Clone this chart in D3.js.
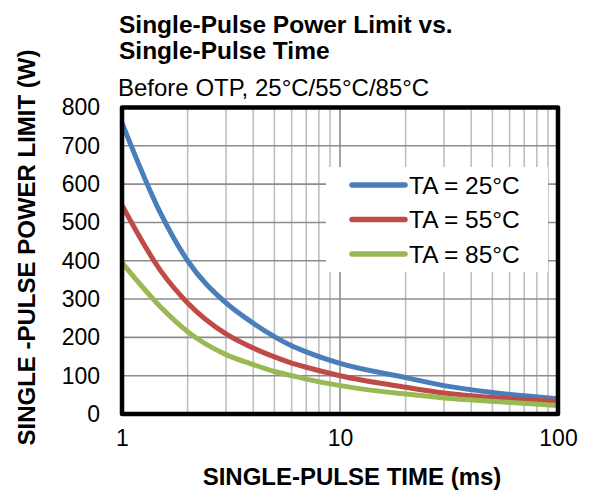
<!DOCTYPE html>
<html>
<head>
<meta charset="utf-8">
<script src="https://cdn.jsdelivr.net/npm/d3@7"></script>
<style>
  body { margin: 0; background: #fff; }
  svg { display: block; font-family: Arial, "Liberation Sans", sans-serif; }
</style>
</head>
<body>
<div id="chart"></div>
<script>
// data
const times = [1, 1.5, 2, 3, 4, 5, 6, 7, 10, 20, 30, 50, 100];
const ta25 = [760, 525, 400, 290, 237, 202, 178, 162, 132, 95, 74, 56, 40];
const ta55 = [545, 375, 290, 209, 172, 149, 133, 122, 100, 70, 55, 43, 33];
const ta85 = [395, 280, 215, 155, 129, 111, 100, 91, 74, 52, 42, 33, 22];
const seriesNames = ['TA = 25°C', 'TA = 55°C', 'TA = 85°C'];
const xTicks = [1, 10, 100];
const yTicks = [0, 100, 200, 300, 400, 500, 600, 700, 800];
const xMinor = [2, 3, 4, 5, 6, 7, 8, 9, 20, 30, 40, 50, 60, 70, 80, 90];

const w = 589, h = 493;
const pLeft = 122, pRight = 558, pTop = 107.5, pBottom = 414;
const colors = ['#4a7ebb', '#be4b48', '#98b954'];

const svg = d3.select('#chart').append('svg')
    .attr('width', w)
    .attr('height', h);

const x = d3.scaleLog().domain([1, 100]).range([pLeft, pRight]);
const y = d3.scaleLinear().domain([0, 800]).range([pBottom, pTop]);

// grid
svg.append('g').selectAll('line')
    .data(xMinor)
    .enter().append('line')
    .attr('x1', d => x(d)).attr('x2', d => x(d))
    .attr('y1', pTop).attr('y2', pBottom)
    .attr('stroke', '#bfbfbf')
    .attr('stroke-width', 1.6);

svg.append('line')
    .attr('x1', x(10)).attr('x2', x(10))
    .attr('y1', pTop).attr('y2', pBottom)
    .attr('stroke', '#8c8c8c')
    .attr('stroke-width', 1.6);

svg.append('g').selectAll('line')
    .data(yTicks.slice(1, -1))
    .enter().append('line')
    .attr('x1', pLeft).attr('x2', pRight)
    .attr('y1', d => y(d)).attr('y2', d => y(d))
    .attr('stroke', '#8c8c8c')
    .attr('stroke-width', 1.6);

// legend box sits over the grid
svg.append('rect')
    .attr('x', 326).attr('y', 167)
    .attr('width', 222).attr('height', 105)
    .attr('fill', '#fff');

// curves
const series = [ta25, ta55, ta85];
const line = d3.line()
    .x((d, i) => x(times[i]))
    .y(d => y(d))
    .curve(d3.curveMonotoneX);

svg.append('g').selectAll('path')
    .data(series)
    .enter().append('path')
    .attr('d', d => line(d))
    .attr('fill', 'none')
    .attr('stroke', (d, i) => colors[i])
    .attr('stroke-width', 5)
    .attr('stroke-linejoin', 'round');

// frame
svg.append('rect')
    .attr('x', pLeft).attr('y', pTop)
    .attr('width', pRight - pLeft).attr('height', pBottom - pTop)
    .attr('fill', 'none')
    .attr('stroke', '#000')
    .attr('stroke-width', 4.5)
    .attr('stroke-linejoin', 'round');

// axes
const yAxis = d3.axisLeft(y).tickValues(yTicks).tickSize(0).tickPadding(0);
const gy = svg.append('g')
    .attr('transform', 'translate(100,0)')
    .call(yAxis);
gy.select('.domain').remove();
gy.selectAll('text')
    .attr('font-size', 23)
    .attr('font-family', 'Arial, "Liberation Sans", sans-serif')
    .attr('fill', '#000');

const xAxis = d3.axisBottom(x).tickValues(xTicks).tickSize(0).tickPadding(0)
    .tickFormat(d3.format('d'));
const gx = svg.append('g')
    .attr('transform', 'translate(0,430)')
    .call(xAxis);
gx.select('.domain').remove();
gx.selectAll('text')
    .attr('font-size', 23)
    .attr('font-family', 'Arial, "Liberation Sans", sans-serif')
    .attr('fill', '#000');

// legend
const lg = svg.append('g').selectAll('g')
    .data(seriesNames)
    .enter().append('g')
    .attr('transform', (d, i) => `translate(0,${185 + i * 34.5})`);
lg.append('line')
    .attr('x1', 352).attr('x2', 405)
    .attr('stroke', (d, i) => colors[i])
    .attr('stroke-width', 5.5)
    .attr('stroke-linecap', 'round');
lg.append('text')
    .attr('x', 409).attr('y', 8.5)
    .attr('font-size', 24.5)
    .text(d => d);

// titles
svg.append('text')
    .attr('x', 119).attr('y', 33)
    .attr('font-size', 24.5).attr('font-weight', 'bold')
    .text('Single-Pulse Power Limit vs.');
svg.append('text')
    .attr('x', 119).attr('y', 59)
    .attr('font-size', 24.5).attr('font-weight', 'bold')
    .text('Single-Pulse Time');
svg.append('text')
    .attr('x', 118).attr('y', 96)
    .attr('font-size', 24)
    .text('Before OTP, 25°C/55°C/85°C');

svg.append('text')
    .attr('x', 352).attr('y', 485)
    .attr('text-anchor', 'middle')
    .attr('font-size', 24).attr('font-weight', 'bold')
    .text('SINGLE-PULSE TIME (ms)');

svg.append('text')
    .attr('transform', 'translate(35,247.5) rotate(-90)')
    .attr('text-anchor', 'middle')
    .attr('font-size', 24).attr('font-weight', 'bold')
    .text('SINGLE -PULSE POWER LIMIT (W)');
</script>
</body>
</html>
